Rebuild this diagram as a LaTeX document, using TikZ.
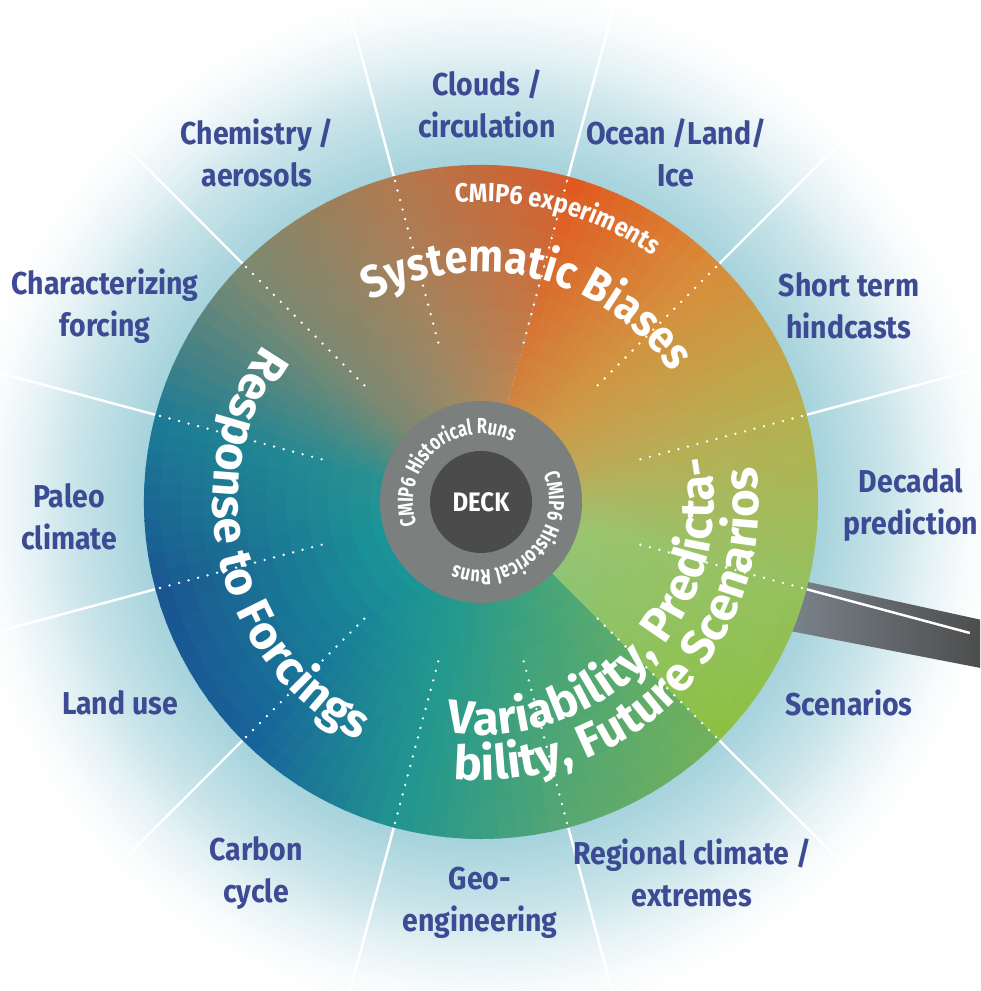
\documentclass[tikz,border=0pt]{standalone}
\usepackage{fontspec}
\setmainfont{Fira Sans}
\newfontfamily\condfont{Fira Sans}[FakeStretch=0.9]
\newfontfamily\narrowfont{Fira Sans}[FakeStretch=0.75]
\usetikzlibrary{decorations.text}

% colours
\definecolor{labelblue}{HTML}{3D4A94}
\definecolor{halo}{HTML}{A6D3DC}
\definecolor{ringgrey}{HTML}{7B7F7D}
\definecolor{deckgrey}{HTML}{4B4B4B}
\definecolor{handlelight}{HTML}{7A828A}
\definecolor{handledark}{HTML}{4A4A4A}
% big band, 75 to 315 deg: rim (e) and inner (i) colour every 30 deg
\definecolor{Le0}{HTML}{D65C2A} \definecolor{Li0}{HTML}{B88A58}
\definecolor{Le1}{HTML}{B07A50} \definecolor{Li1}{HTML}{9A8A68}
\definecolor{Le2}{HTML}{7A8A72} \definecolor{Li2}{HTML}{7C8872}
\definecolor{Le3}{HTML}{1A7A96} \definecolor{Li3}{HTML}{2A9290}
\definecolor{Le4}{HTML}{1A5290} \definecolor{Li4}{HTML}{1A9898}
\definecolor{Le5}{HTML}{18609A} \definecolor{Li5}{HTML}{1A9696}
\definecolor{Le6}{HTML}{22968F} \definecolor{Li6}{HTML}{24998E}
\definecolor{Le7}{HTML}{5AA870} \definecolor{Li7}{HTML}{36A080}
\definecolor{Le8}{HTML}{76B258} \definecolor{Li8}{HTML}{4AA678}
% small band, -45 to 75 deg
\definecolor{Re0}{HTML}{8CC040} \definecolor{Ri0}{HTML}{90C478}
\definecolor{Re1}{HTML}{96C05E} \definecolor{Ri1}{HTML}{9CC470}
\definecolor{Re2}{HTML}{B6B04E} \definecolor{Ri2}{HTML}{BCAA5A}
\definecolor{Re3}{HTML}{DA8A38} \definecolor{Ri3}{HTML}{CC9A48}
\definecolor{Re4}{HTML}{E2521C} \definecolor{Ri4}{HTML}{D08440}

\newcommand\bigfont{\bfseries\fontsize{13.5}{16}\selectfont}
\newcommand\biasfont{\condfont\bfseries\fontsize{13}{16}\selectfont}
\newcommand\labfont{\condfont\bfseries\fontsize{9}{12}\selectfont}
\newcommand\expfont{\condfont\bfseries\fontsize{7.5}{9}\selectfont}
\newcommand\ringfont{\narrowfont\bfseries\fontsize{6.2}{7}\selectfont}
\newcommand\deckfont{\condfont\bfseries\fontsize{7.6}{9}\selectfont}

\pgfdeclareradialshading{haloshade}{\pgfpoint{0cm}{0cm}}{%
  color(0bp)=(halo); color(15.9bp)=(halo); color(19.3bp)=(halo!60!white);
  color(21.2bp)=(halo!30!white); color(23.1bp)=(halo!8!white);
  color(24.5bp)=(white); color(50bp)=(white)}

% wheel band: #1 first angle, #2 number of 30 deg steps, #3 colour prefix
\newcommand\colourwedge[3]{%
  \begin{scope}
    \clip (0,0) -- (#1:3.37) arc[start angle=#1, delta angle=30*#2, radius=3.37] -- cycle;
    \foreach \sg in {1,...,#2}{
      \pgfmathtruncatemacro{\sgp}{\sg-1}
      \foreach \sb in {0,...,9}{
        \pgfmathsetmacro{\ang}{#1+30*\sgp+3*\sb}
        \pgfmathtruncatemacro{\mixp}{100-10*\sb}
        \colorlet{rimcol}{#3e\sgp!\mixp!#3e\sg}
        \colorlet{midcol}{#3i\sgp!\mixp!#3i\sg}
        \foreach \rg in {0,...,11}{
          \pgfmathsetmacro{\ra}{0.9+0.21*\rg}
          \pgfmathtruncatemacro{\u}{4+8.4*\rg}
          \fill[rimcol!\u!midcol] (\ang:\ra) arc[start angle=\ang, end angle=\ang+3.4, radius=\ra]
            -- (\ang+3.4:\ra+0.25) arc[start angle=\ang+3.4, end angle=\ang, radius=\ra+0.25] -- cycle;
        }
      }
    }
  \end{scope}}

\tikzset{
  lab/.style={text=labelblue, font=\labfont, align=center},
  spoke/.style={white, line width=0.7pt},
  dotline/.style={white, line width=0.75pt, line cap=round, dash pattern=on 0pt off 2.8pt},
  arctext/.style={decorate, decoration={text along path, text align=center, text={#1}}}
}

\begin{document}
\begin{tikzpicture}
  \useasboundingbox (-4.81,-4.89) rectangle (4.99,5.02);
  \clip (-4.81,-4.89) rectangle (4.99,5.02);

  % glow
  \shade[shading=haloshade] (0,0) circle (5.3);

  % handle
  \shade[left color=handlelight, right color=handledark]
    (3.09,-0.76) -- (5.1,-1.2) -- (5.1,-1.68) -- (3.09,-1.29) -- cycle;

  % spokes
  \foreach \ang in {15,45,...,315}
    \draw[spoke] (\ang:3.37) -- (\ang:7);
  \draw[spoke] (345:3.37) -- (345:5.06);

  % wheel
  \colourwedge{75}{8}{L}
  \colourwedge{-45}{4}{R}
  \foreach \ang in {15,45,...,345}
    \draw[dotline] (\ang:1.65) -- (\ang:3.37);

  % centre
  \fill[ringgrey] (0,0) circle (1.01);
  \node[circle, fill=deckgrey, minimum size=1.02cm, inner sep=0pt, text=white, font=\deckfont] (deck) at (0,0) {DECK};
  \path[arctext={|\ringfont\color{white}|CMIP6 Historical Runs}]
    (206:0.68) arc[start angle=206, end angle=56, radius=0.68];
  \path[arctext={|\ringfont\color{white}|CMIP6 Historical Runs}]
    (30.5:0.68) arc[start angle=30.5, end angle=-119.5, radius=0.68];

  % band titles
  \path[arctext={|\expfont\color{white}|CMIP6 experiments}]
    (120:3.0) arc[start angle=120, end angle=30, radius=3.0];
  \path[arctext={|\biasfont\color{white}|Systematic Biases}]
    (160:2.3) arc[start angle=160, end angle=-7, radius=2.3];
  \path[arctext={|\bigfont\color{white}|Response to Forcings}]
    (115:2.68) arc[start angle=115, end angle=272, radius=2.68];
  \path[arctext={|\bigfont\color{white}|Variability, Predicta-}]
    (240:2.33) arc[start angle=240, end angle=393, radius=2.33];
  \path[arctext={|\bigfont\color{white}|bility, Future Scenarios}]
    (240:2.78) arc[start angle=240, end angle=391.5, radius=2.78];

  % topics
  \node[lab] (clouds)    at (0.06,3.98)   {Clouds /\\circulation};
  \node[lab] (chemistry) at (-2.24,3.49)  {Chemistry /\\aerosols};
  \node[lab] (ocean)     at (1.95,3.49)   {Ocean /Land/\\Ice};
  \node[lab] (forcing)   at (-3.76,1.96)  {Characterizing\\forcing};
  \node[lab] (hindcast)  at (3.68,1.96)   {Short term\\hindcasts};
  \node[lab] (paleo)     at (-4.12,-0.15) {Paleo\\climate};
  \node[lab] (decadal)   at (4.30,-0.03)  {Decadal\\prediction};
  \node[lab] (landuse)   at (-3.61,-2.01) {Land use};
  \node[lab] (scenarios) at (3.68,-2.01)  {Scenarios};
  \node[lab] (carbon)    at (-2.25,-3.71) {Carbon\\cycle};
  \node[lab] (regional)  at (2.11,-3.71)  {Regional climate /\\extremes};
  \node[lab] (geo)       at (-0.01,-4.01) {Geo-\\engineering};
\end{tikzpicture}
\end{document}
